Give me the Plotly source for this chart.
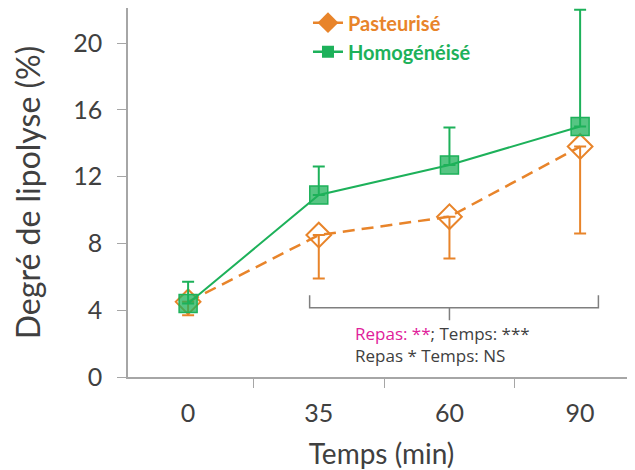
import plotly.graph_objects as go

temps = ["0", "35", "60", "90"]

past = [4.5, 8.5, 9.6, 13.8]
past_err_minus = [0.8, 2.6, 2.5, 5.2]

homo = [4.4, 10.9, 12.7, 15.0]
homo_err_plus = [1.3, 1.7, 2.25, 7.0]

orange = "#E8842A"
green = "#1DB15A"
grey_txt = "#404040"

fig = go.Figure()

fig.add_trace(go.Scatter(
    x=temps, y=past, mode="lines+markers", showlegend=False, cliponaxis=False,
    line=dict(color=orange, width=2.5, dash="12px,7px"),
    marker=dict(symbol="diamond", size=19, color="rgba(255,255,255,0)",
                line=dict(color=orange, width=2)),
    error_y=dict(type="data", symmetric=False, array=[0, 0, 0, 0],
                 arrayminus=past_err_minus, color=orange, thickness=2, width=6),
))

fig.add_trace(go.Scatter(
    x=temps, y=homo, mode="lines+markers", showlegend=False, cliponaxis=False,
    line=dict(color=green, width=2),
    marker=dict(symbol="square", size=18, color="rgba(29,177,90,0.75)",
                line=dict(color=green, width=1.5)),
    error_y=dict(type="data", symmetric=False, array=homo_err_plus,
                 arrayminus=[0, 0, 0, 0], color=green, thickness=2, width=6),
))

# legend entries
fig.add_trace(go.Scatter(
    x=[None], y=[None], mode="lines+markers",
    name=f"<b><span style='color:{orange}'>Pasteurisé</span></b>",
    line=dict(color=orange, width=2.5),
    marker=dict(symbol="diamond", size=16, color=orange),
))
fig.add_trace(go.Scatter(
    x=[None], y=[None], mode="lines+markers",
    name=f"<b><span style='color:{green}'>Homogénéisé</span></b>",
    line=dict(color=green, width=2.5),
    marker=dict(symbol="square", size=12, color=green),
))

# bracket under the curves
bx0, bx1, bxm = 0.93, 3.14, 2.0
ytop, ymid, ybot = 4.9, 4.15, 3.4
path = (f"M {bx0} {ytop} L {bx0} {ymid} L {bx1} {ymid} L {bx1} {ytop} "
        f"M {bxm} {ymid} L {bxm} {ybot}")
fig.add_shape(type="path", path=path, xref="x", yref="y",
              line=dict(color="#7F7F7F", width=1.5))

fig.add_annotation(
    x=0.444, xref="paper", y=1.95, yref="y", xanchor="left", yanchor="middle",
    showarrow=False, align="left",
    text="<span style='color:#E0209A'>Repas: **</span>; Temps: ***<br>Repas * Temps: NS",
    font=dict(family="Open Sans", size=17, color=grey_txt),
)

fig.update_layout(
    width=635, height=470,
    margin=dict(l=120, r=8, t=0, b=101, autoexpand=False),
    plot_bgcolor="white", paper_bgcolor="white",
    font=dict(family="Lato", color=grey_txt),
    legend=dict(x=0.355, y=1.013, xanchor="left", yanchor="top",
                bgcolor="rgba(0,0,0,0)", tracegroupgap=0,
                font=dict(family="Lato", size=20)),
    xaxis=dict(
        type="category", range=[-0.46, 3.42], showgrid=False, automargin=False,
        showline=True, linecolor="#A6A6A6", linewidth=1.5,
        ticks="outside", tickson="boundaries", ticklen=9, tickcolor="#A6A6A6",
        ticklabelstandoff=13,
        tickfont=dict(size=25, color=grey_txt),
        title=dict(text="Temps (min)", font=dict(size=28, color=grey_txt), standoff=19),
    ),
    yaxis=dict(
        range=[0, 22.1], dtick=4, showgrid=False, zeroline=False, automargin=False,
        showline=True, linecolor="#A6A6A6", linewidth=1.5,
        ticks="outside", ticklen=9, tickcolor="#A6A6A6",
        ticklabelstandoff=10,
        tickfont=dict(size=25, color=grey_txt),
        title=dict(text="Degré de lipolyse (%)", font=dict(size=32, color=grey_txt), standoff=28),
    ),
)

fig.write_html("out.html")
